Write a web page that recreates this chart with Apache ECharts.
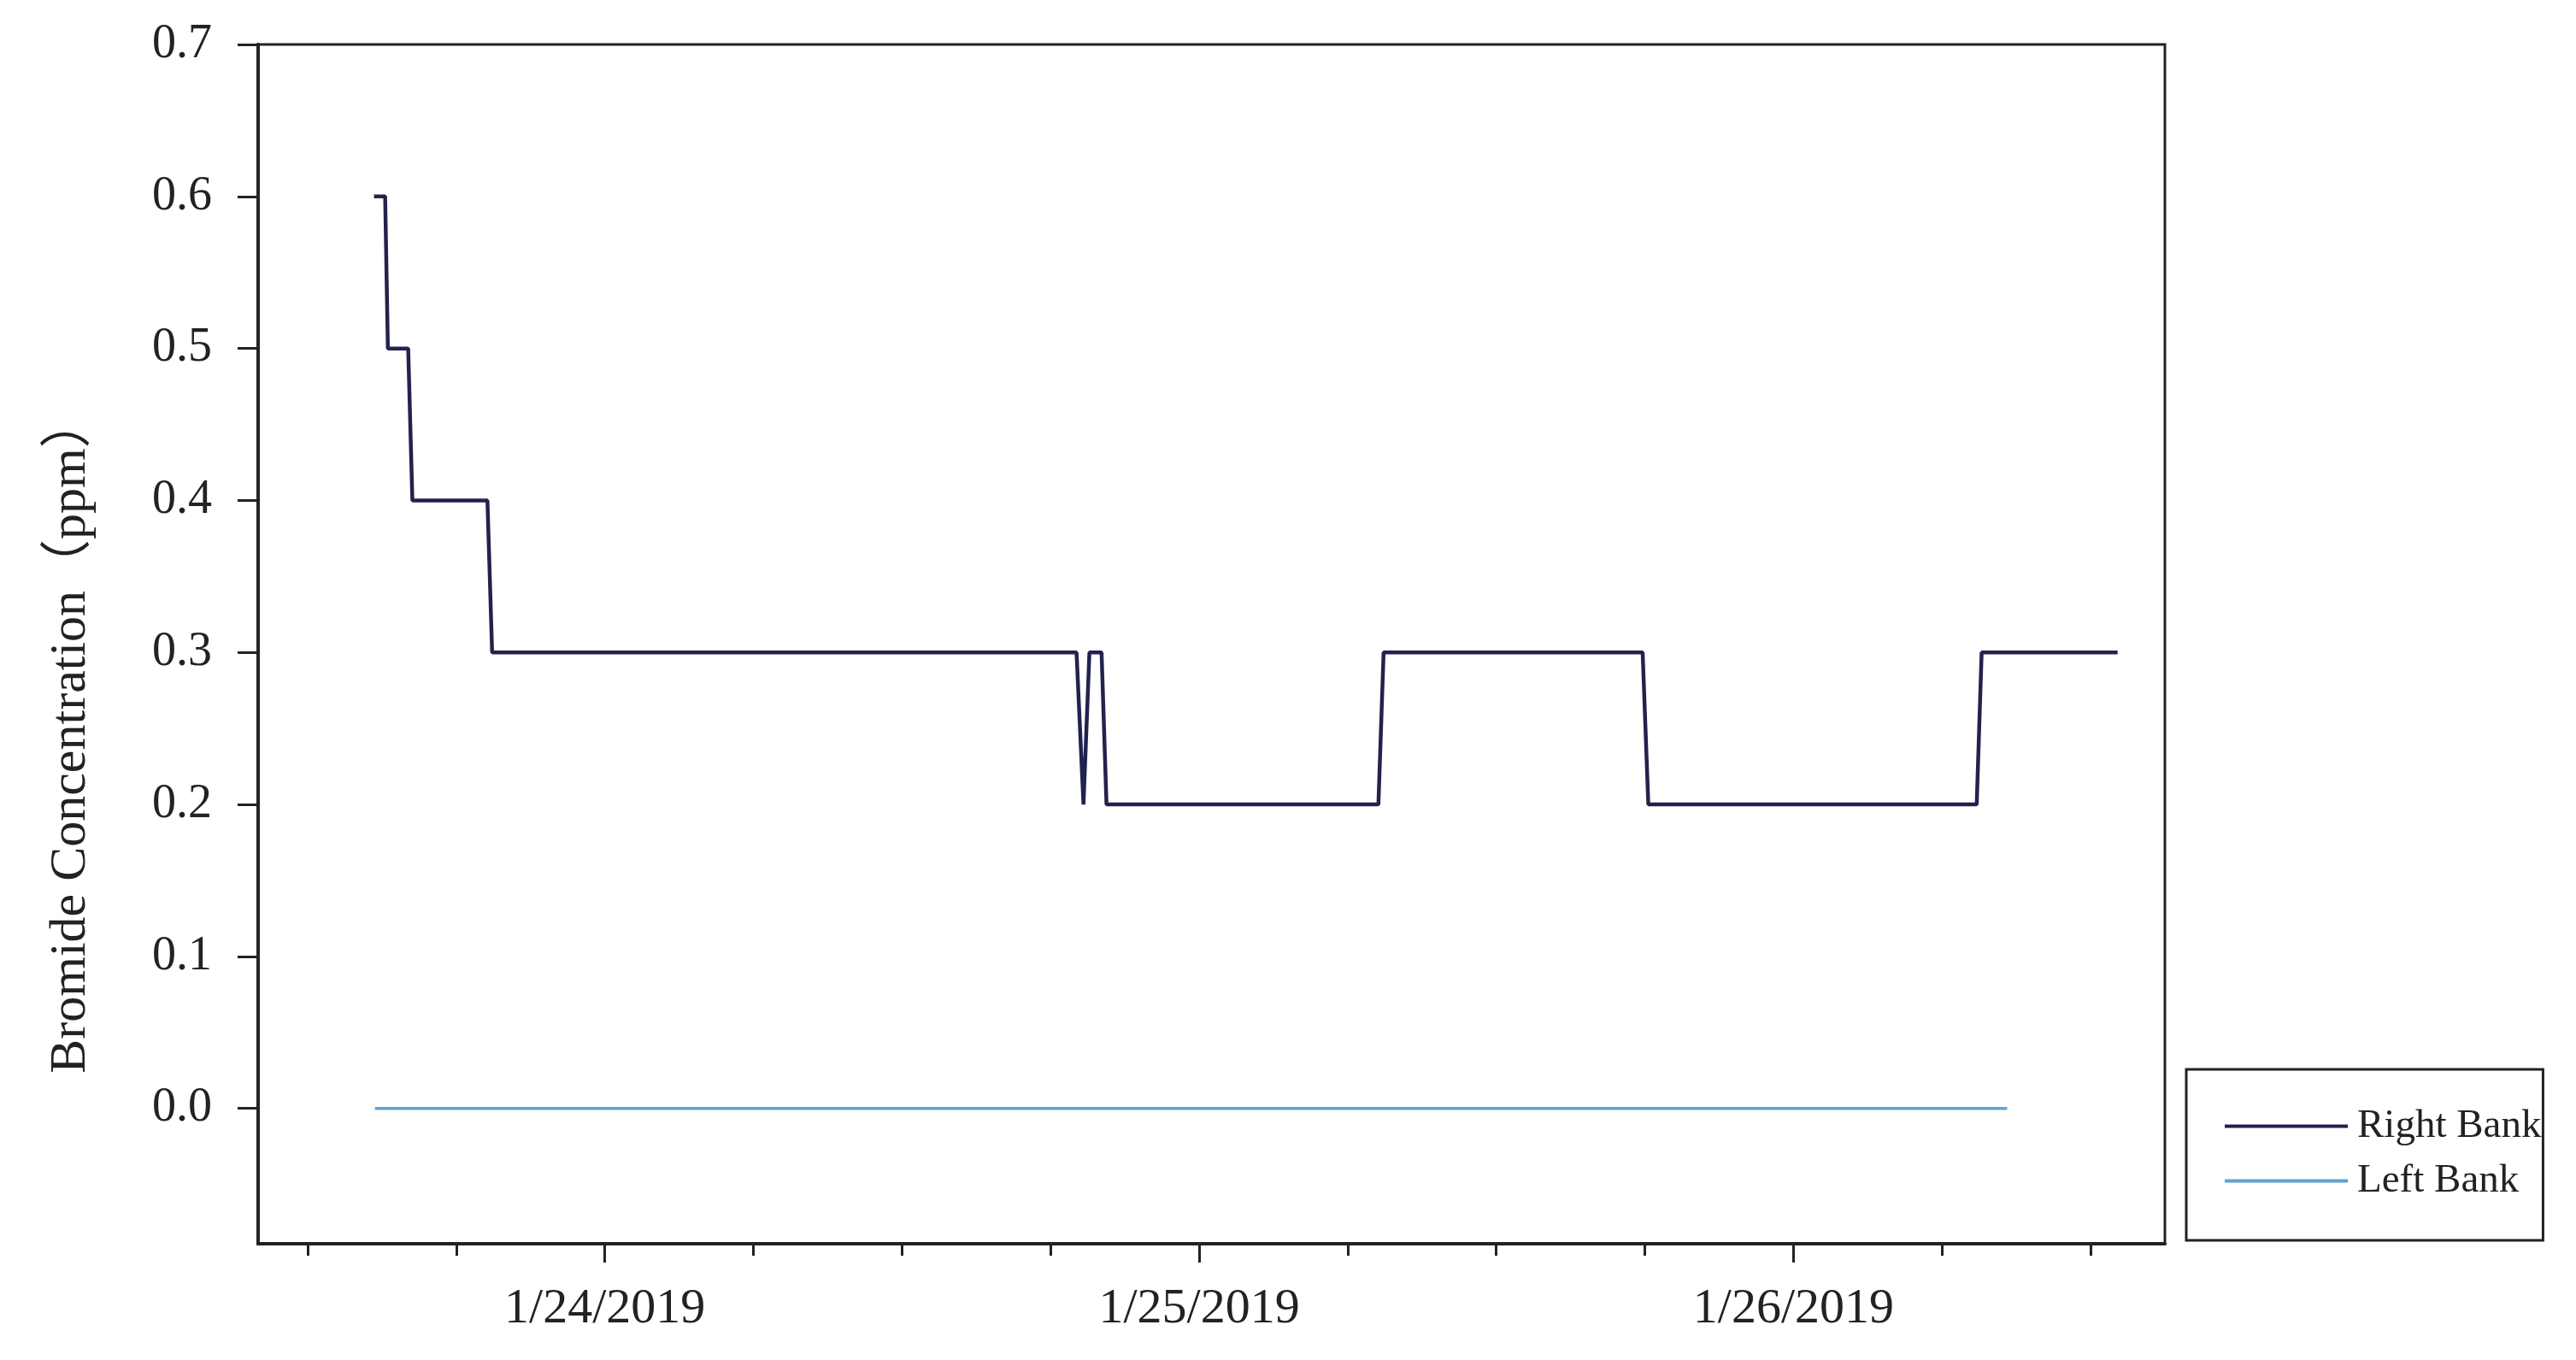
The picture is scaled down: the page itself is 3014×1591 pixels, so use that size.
<!DOCTYPE html>
<html>
<head>
<meta charset="utf-8">
<script src="https://cdn.jsdelivr.net/npm/echarts@6/dist/echarts.min.js"></script>
<style>
html,body{margin:0;padding:0;background:#fff;}
#c{width:3014px;height:1591px;}
</style>
</head>
<body>
<div id="c"></div>
<script>
// ---- data (x = hours relative to 1/24/2019 00:00) ----
const rightHours  = [-9.32, -8.87, -8.76, -7.94, -7.77, -4.74, -4.55, 19.05, 19.33, 19.57, 20.06, 20.26, 31.24, 31.45, 41.91, 42.14, 55.40, 55.60, 61.09];
const rightValues = [0.6,   0.6,   0.5,   0.5,   0.4,   0.4,   0.3,   0.3,   0.2,   0.3,   0.3,   0.2,   0.2,   0.3,   0.3,   0.2,   0.2,   0.3,   0.3];
const leftHours   = [-9.28, 56.63];
const leftValues  = [0, 0];
const yTicks      = [0, 0.1, 0.2, 0.3, 0.4, 0.5, 0.6, 0.7];
const xMinorTicks = [-12, -6, 0, 6, 12, 18, 24, 30, 36, 42, 48, 54, 60];
const xMajorTicks = [0, 24, 48];
const xMajorLabels = ['1/24/2019', '1/25/2019', '1/26/2019'];
const seriesNames = ['Right Bank', 'Left Bank'];
const yTitle = 'Bromide Concentration（ppm）';

const zip = (xs, ys) => xs.map((x, i) => [x, ys[i]]);
const serif = '"Liberation Serif", "Noto Sans CJK SC", serif';
const ink = '#222';

const chart = echarts.init(document.getElementById('c'));
chart.setOption({
  animation: false,
  backgroundColor: '#fff',
  grid: {
    left: 302, top: 52, width: 2231, height: 1403,
    show: true, borderColor: ink, borderWidth: 3, backgroundColor: 'transparent'
  },
  xAxis: [
    {
      type: 'value', min: -14, max: 63, position: 'bottom',
      axisLine: { show: true, onZero: false, lineStyle: { color: ink, width: 4 } },
      axisTick: { show: true, customValues: xMinorTicks, length: 14, lineStyle: { color: ink, width: 3 } },
      axisLabel: { show: false },
      splitLine: { show: false }
    },
    {
      type: 'value', min: -14, max: 63, position: 'bottom', offset: 0,
      axisLine: { show: false, onZero: false },
      axisTick: { show: true, customValues: xMajorTicks, length: 22, lineStyle: { color: ink, width: 3 } },
      axisLabel: {
        show: true, customValues: xMajorTicks, margin: 48,
        fontSize: 58, fontFamily: serif, color: ink,
        formatter: v => xMajorLabels[xMajorTicks.indexOf(v)] || ''
      },
      splitLine: { show: false }
    }
  ],
  yAxis: {
    type: 'value', min: -0.089, max: 0.7,
    axisLine: { show: true, onZero: false, lineStyle: { color: ink, width: 4 } },
    axisTick: { show: true, customValues: yTicks, length: 24, lineStyle: { color: ink, width: 3 } },
    axisLabel: {
      show: true, customValues: yTicks, margin: 54,
      fontSize: 56, fontFamily: serif, color: ink,
      formatter: v => v.toFixed(1)
    },
    splitLine: { show: false }
  },
  legend: {
    orient: 'vertical',
    left: 2558, top: 1251,
    data: seriesNames,
    icon: 'rect',
    itemWidth: 144, itemHeight: 4, itemGap: 17,
    padding: [43, 2, 46, 45],
    borderColor: ink, borderWidth: 3,
    textStyle: { fontSize: 47, fontFamily: serif, color: ink, padding: [0, 0, 0, 6] }
  },
  graphic: [{
    type: 'text', x: 83, y: 860, rotation: Math.PI / 2,
    style: {
      text: yTitle, fontSize: 60, fontFamily: serif, fill: ink,
      align: 'center', verticalAlign: 'middle'
    }
  }],
  series: [
    {
      name: seriesNames[0], type: 'line', xAxisIndex: 0,
      data: zip(rightHours, rightValues),
      showSymbol: false, symbol: 'none',
      lineStyle: { color: '#22224e', width: 4.5 },
      itemStyle: { color: '#22224e' }
    },
    {
      name: seriesNames[1], type: 'line', xAxisIndex: 0,
      data: zip(leftHours, leftValues),
      showSymbol: false, symbol: 'none',
      lineStyle: { color: '#5ea3cf', width: 3.5 },
      itemStyle: { color: '#5ea3cf' }
    }
  ]
});
</script>
</body>
</html>
